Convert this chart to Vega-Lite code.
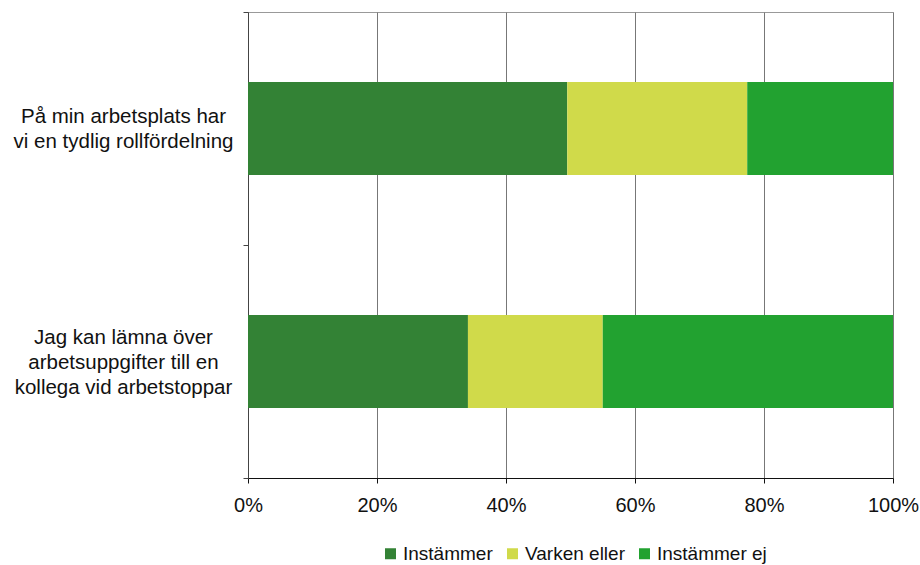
{
  "$schema": "https://vega.github.io/schema/vega-lite/v6.json",
  "width": 645,
  "height": 466,
  "autosize": {"type": "none"},
  "padding": {"left": 248, "top": 12, "right": 27, "bottom": 87},
  "background": "white",
  "config": {
    "font": "Liberation Sans",
    "view": {"stroke": "#999999", "strokeWidth": 1}
  },
  "data": {
    "values": [
      {"fråga": "På min arbetsplats har vi en tydlig rollfördelning", "svar": "Instämmer", "ord": 1, "andel": 49.5},
      {"fråga": "På min arbetsplats har vi en tydlig rollfördelning", "svar": "Varken eller", "ord": 2, "andel": 27.9},
      {"fråga": "På min arbetsplats har vi en tydlig rollfördelning", "svar": "Instämmer ej", "ord": 3, "andel": 22.6},
      {"fråga": "Jag kan lämna över arbetsuppgifter till en kollega vid arbetstoppar", "svar": "Instämmer", "ord": 1, "andel": 34.1},
      {"fråga": "Jag kan lämna över arbetsuppgifter till en kollega vid arbetstoppar", "svar": "Varken eller", "ord": 2, "andel": 20.9},
      {"fråga": "Jag kan lämna över arbetsuppgifter till en kollega vid arbetstoppar", "svar": "Instämmer ej", "ord": 3, "andel": 45.0}
    ]
  },
  "mark": {"type": "bar", "height": {"band": 0.4}},
  "encoding": {
    "y": {
      "field": "fråga",
      "type": "nominal",
      "sort": null,
      "scale": {"paddingInner": 0, "paddingOuter": 0},
      "axis": {
        "title": null,
        "tickBand": "extent",
        "domainColor": "#444444",
        "tickColor": "#444444",
        "tickSize": 5,
        "labelFont": "Liberation Sans",
        "labelFontSize": 20.5,
        "labelColor": "#111111",
        "labelAlign": "center",
        "labelBaseline": "middle",
        "labelPadding": 120,
        "labelLineHeight": 25,
        "labelLimit": 400,
        "labelOffset": {"condition": {"test": "datum.value == 'Jag kan lämna över arbetsuppgifter till en kollega vid arbetstoppar'", "value": -24}, "value": -12},
        "labelExpr": "datum.value == 'På min arbetsplats har vi en tydlig rollfördelning' ? ['På min arbetsplats har', 'vi en tydlig rollfördelning'] : datum.value == 'Jag kan lämna över arbetsuppgifter till en kollega vid arbetstoppar' ? ['Jag kan lämna över', 'arbetsuppgifter till en', 'kollega vid arbetstoppar'] : ''"
      }
    },
    "x": {
      "field": "andel",
      "type": "quantitative",
      "stack": "normalize",
      "scale": {"domain": [0, 1]},
      "axis": {
        "title": null,
        "format": ".0%",
        "values": [0, 0.2, 0.4, 0.6, 0.8, 1],
        "grid": true,
        "gridColor": "#777777",
        "gridWidth": 1,
        "domainColor": "#111111",
        "tickColor": "#111111",
        "tickSize": 5,
        "labelFont": "Liberation Sans",
        "labelFontSize": 20,
        "labelColor": "#111111",
        "labelPadding": 12,
        "labelFlush": false
      }
    },
    "color": {
      "field": "svar",
      "type": "nominal",
      "sort": ["Instämmer", "Varken eller", "Instämmer ej"],
      "scale": {
        "domain": ["Instämmer", "Varken eller", "Instämmer ej"],
        "range": ["#338235", "#d0da4a", "#22a230"]
      },
      "legend": {
        "title": null,
        "orient": "none",
        "direction": "horizontal",
        "legendX": 133,
        "legendY": 532,
        "symbolType": "square",
        "symbolSize": 121,
        "symbolStrokeWidth": 0,
        "labelFont": "Liberation Sans",
        "labelFontSize": 19,
        "labelColor": "#111111",
        "columnPadding": 10,
        "labelOffset": 3
      }
    },
    "order": {"field": "ord", "type": "quantitative"}
  }
}
